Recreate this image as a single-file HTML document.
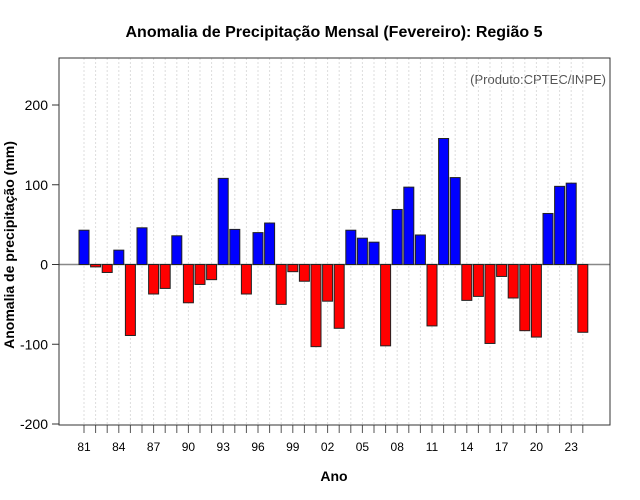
<!DOCTYPE html>
<html><head><meta charset="utf-8"><style>
body{margin:0;background:#fff;}
svg{display:block;font-family:"Liberation Sans",sans-serif;}
</style></head><body>
<svg id="chart" width="640" height="500">
<text x="334" y="37" text-anchor="middle" font-size="16" font-weight="bold">Anomalia de Precipitação Mensal (Fevereiro): Região 5</text>
<text x="606" y="84" text-anchor="end" font-size="13" fill="#555">(Produto:CPTEC/INPE)</text>
<text x="334" y="481" text-anchor="middle" font-size="14" font-weight="bold">Ano</text>
<text transform="translate(14,245) rotate(-90)" text-anchor="middle" font-size="14" font-weight="bold">Anomalia de precipitação (mm)</text>
<g id="grid"></g><g id="bars"></g><g id="axes"></g>
<rect x="59" y="58" width="551" height="367" fill="none" stroke="#333"/>
</svg>
<script>
const years=[81,82,83,84,85,86,87,88,89,90,91,92,93,94,95,96,97,98,99,0,1,2,3,4,5,6,7,8,9,10,11,12,13,14,15,16,17,18,19,20,21,22,23,24];
const values=[43,-3,-10,18,-89,46,-37,-30,36,-48,-25,-19,108,44,-37,40,52,-50,-9,-21,-103,-46,-80,43,33,28,-102,69,97,37,-77,158,109,-45,-40,-99,-15,-42,-83,-91,64,98,102,-85];
const yTicks=[-200,-100,0,100,200];
const ns="http://www.w3.org/2000/svg";
const xs=i=>84+i*11.6;
const ys=v=>264.5-v*0.7975;
function mk(t,a,p){const e=document.createElementNS(ns,t);for(const k in a)e.setAttribute(k,a[k]);p.appendChild(e);return e;}
const grid=document.getElementById('grid'),bars=document.getElementById('bars'),axes=document.getElementById('axes');
years.forEach((y,i)=>{
 const g=mk('line',{x1:xs(i),x2:xs(i),y1:58,y2:425,stroke:'#ddd','stroke-dasharray':'2,2'},grid);
 
 
 const t=mk('line',{x1:xs(i),x2:xs(i),y1:425,y2:433,stroke:'#555'},axes);
 
 
 if(i%3===0){
  const l=mk('text',{x:xs(i),y:451,'text-anchor':'middle','font-size':12},axes);
  l.textContent=String(y).padStart(2,'0');
  
  
 }
});
const zl=mk('line',{x1:59,x2:610,y1:ys(0),y2:ys(0),stroke:'#888','stroke-width':1.5},grid);


values.forEach((v,i)=>{
 const y0=ys(0),y1=ys(v);
 const r=mk('rect',{x:xs(i)-5,y:Math.min(y0,y1),width:10,height:Math.abs(y1-y0),fill:v>=0?'#0000ff':'#ff0000',stroke:'#222','stroke-width':1},bars);
 
 
});
yTicks.forEach(v=>{
 const t=mk('line',{x1:52,x2:59,y1:ys(v),y2:ys(v),stroke:'#333'},axes);
 
 
 const l=mk('text',{x:48,y:ys(v)+5,'text-anchor':'end','font-size':14},axes);
 l.textContent=v;
 
 
});
</script>
</body></html>
